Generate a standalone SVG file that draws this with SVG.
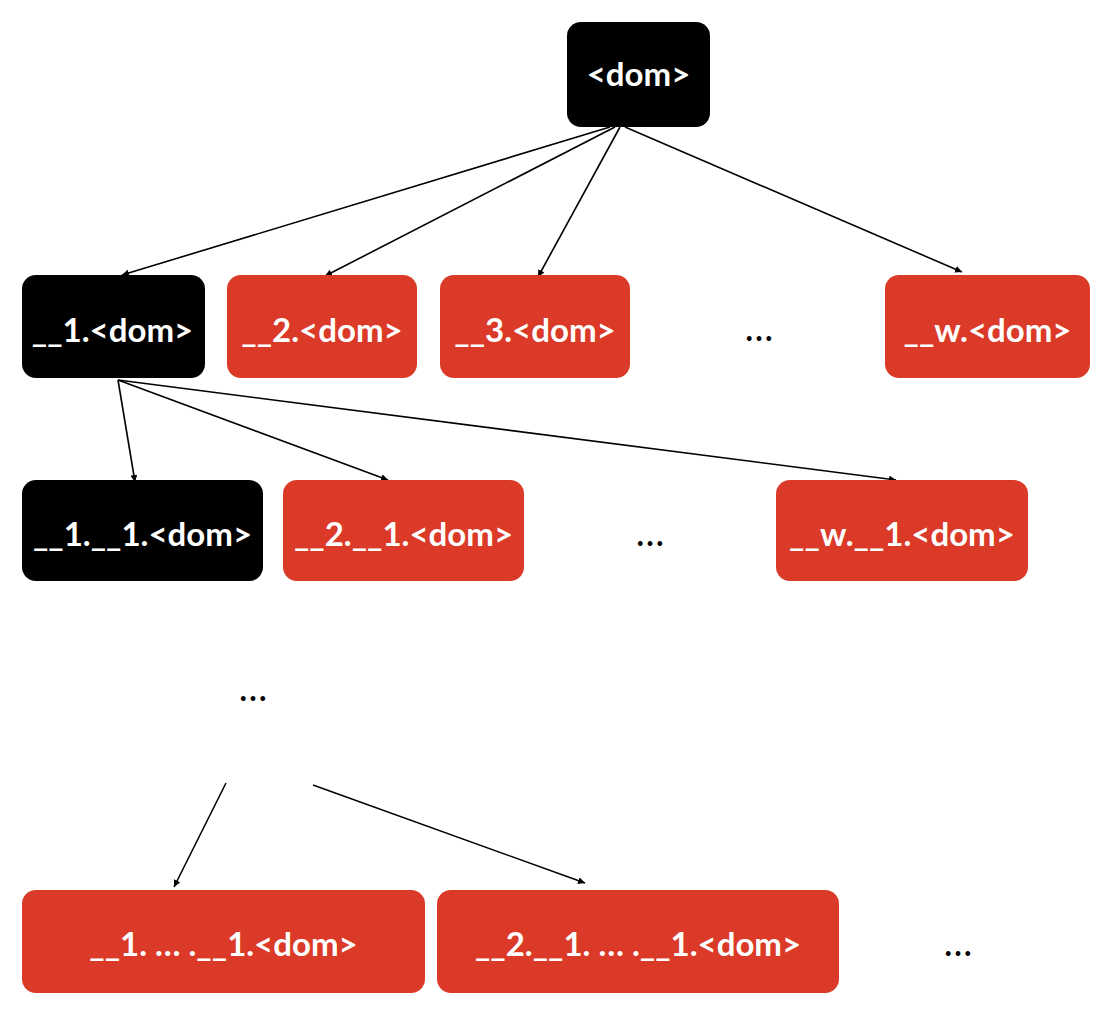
<svg xmlns="http://www.w3.org/2000/svg" width="1106" height="1036" viewBox="0 0 1106 1036">
<defs>
<marker id="ah" viewBox="0 0 10 10" refX="10" refY="5" markerWidth="7" markerHeight="7" markerUnits="userSpaceOnUse" orient="auto"><path d="M0,0 L10,5 L0,10 z" fill="#000"/></marker>
<style>
.blk{fill:#000}
.red{fill:#DA3A27}
.lbl{font-family:"Lato","Open Sans","Liberation Sans",sans-serif;font-weight:bold;font-size:33px;fill:#fff;text-anchor:middle}
.dots{font-family:"Lato","Liberation Sans",sans-serif;font-size:38px;fill:#000;text-anchor:middle}
.cn{stroke:#000;stroke-width:1.6;fill:none;marker-end:url(#ah)}
</style>
</defs>
<rect width="1106" height="1036" fill="#fff"/>
<g id="connectors">
<line class="cn" x1="610" y1="127" x2="122" y2="275"/>
<line class="cn" x1="615" y1="127" x2="325" y2="276"/>
<line class="cn" x1="620" y1="127" x2="538" y2="277"/>
<line class="cn" x1="625" y1="127" x2="962" y2="272"/>
<line class="cn" x1="118" y1="380" x2="135" y2="482"/>
<line class="cn" x1="118" y1="380" x2="388" y2="480"/>
<line class="cn" x1="118" y1="380" x2="896" y2="480"/>
<line class="cn" x1="226" y1="783" x2="174" y2="887"/>
<line class="cn" x1="313" y1="785" x2="585" y2="883"/>
</g>
<g id="root"><rect class="blk" x="567" y="22" width="143" height="105" rx="14"/><text class="lbl" x="638.5" y="86" font-size="36">&lt;dom&gt;</text></g>
<g id="n1"><rect class="blk" x="22" y="275" width="183" height="103" rx="14"/><text class="lbl" x="112.5" y="342">__1.&lt;dom&gt;</text></g>
<g id="n2"><rect class="red" x="227" y="275" width="190" height="103" rx="14"/><text class="lbl" x="322" y="342">__2.&lt;dom&gt;</text></g>
<g id="n3"><rect class="red" x="440" y="275" width="190" height="103" rx="14"/><text class="lbl" x="535" y="342">__3.&lt;dom&gt;</text></g>
<g id="d1"><text class="dots" x="759" y="341">…</text></g>
<g id="nw"><rect class="red" x="885" y="275" width="205" height="103" rx="14"/><text class="lbl" x="987.5" y="342">__w.&lt;dom&gt;</text></g>
<g id="n11"><rect class="blk" x="22" y="480" width="241" height="101" rx="14"/><text class="lbl" x="142.5" y="546">__1.__1.&lt;dom&gt;</text></g>
<g id="n21"><rect class="red" x="283" y="480" width="241" height="101" rx="14"/><text class="lbl" x="403.5" y="546">__2.__1.&lt;dom&gt;</text></g>
<g id="d2"><text class="dots" x="650" y="546">…</text></g>
<g id="nw1"><rect class="red" x="776" y="480" width="252" height="101" rx="14"/><text class="lbl" x="902" y="546">__w.__1.&lt;dom&gt;</text></g>
<g id="d3"><text class="dots" x="253" y="701">…</text></g>
<g id="b1"><rect class="red" x="22" y="890" width="403" height="103" rx="14"/><text class="lbl" x="223.5" y="956">__1. … .__1.&lt;dom&gt;</text></g>
<g id="b2"><rect class="red" x="437" y="890" width="402" height="103" rx="14"/><text class="lbl" x="638" y="956">__2.__1. … .__1.&lt;dom&gt;</text></g>
<g id="d4"><text class="dots" x="958" y="956">…</text></g>
</svg>
